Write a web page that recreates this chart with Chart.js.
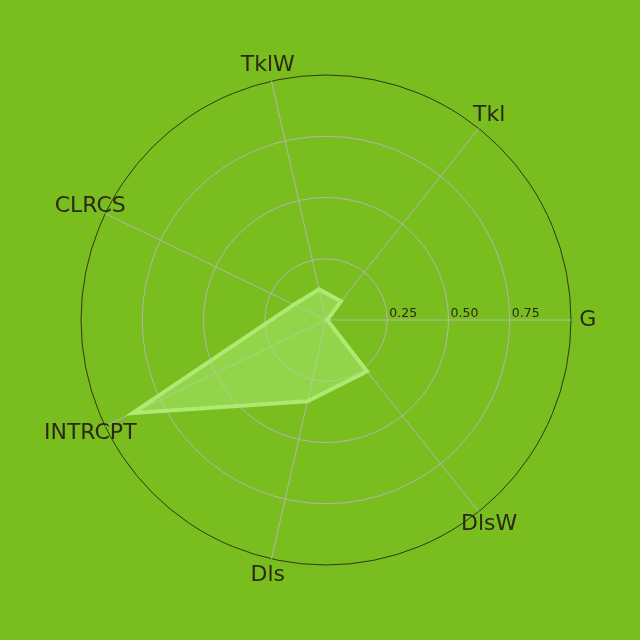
<!DOCTYPE html>
<html>
<head>
<meta charset="utf-8">
<script src="https://cdn.jsdelivr.net/npm/chart.js@4/dist/chart.umd.min.js"></script>
<style>
html,body{margin:0;padding:0;background:#79bd1f;}
canvas{display:block;}
</style>
</head>
<body>
<canvas id="c" width="640" height="640"></canvas>
<script>
// Categories in clockwise order starting from the right (G)
const categories = ["G", "DlsW", "Dls", "INTRCPT", "CLRCS", "TklW", "Tkl"];
const values = [0.005, 0.268, 0.340, 0.875, 0.145, 0.128, 0.098];
const tickLabels = ["0.25", "0.50", "0.75"];
const tickValues = [0.25, 0.5, 0.75];

const textColor = "#2a2a12";

const labelPlugin = {
  id: "labels",
  beforeDraw(chart) {
    const ctx = chart.ctx;
    ctx.save();
    ctx.fillStyle = "#79bd1f";
    ctx.fillRect(0, 0, chart.width, chart.height);
    ctx.restore();
  },
  afterDraw(chart) {
    const ctx = chart.ctx;
    const r = chart.scales.r;
    ctx.save();
    ctx.fillStyle = textColor;
    ctx.font = "22px 'DejaVu Sans'";
    ctx.textAlign = "center";
    ctx.textBaseline = "middle";
    categories.forEach((lab, i) => {
      const p = r.getPointPositionForValue(i, 1.068);
      ctx.fillText(lab, p.x, p.y);
    });
    ctx.font = "12.5px 'DejaVu Sans'";
    ctx.textAlign = "left";
    ctx.textBaseline = "alphabetic";
    tickValues.forEach((v, i) => {
      const p = r.getPointPositionForValue(0, v);
      ctx.fillText(tickLabels[i], p.x + 2, p.y - 3);
    });
    ctx.restore();
  }
};

new Chart(document.getElementById("c"), {
  type: "radar",
  data: {
    labels: categories,
    datasets: [{
      data: values,
      backgroundColor: "rgba(168,232,110,0.55)",
      borderColor: "#aeea72",
      borderWidth: 4,
      pointRadius: 0,
      pointHoverRadius: 0,
      tension: 0,
      fill: true
    }]
  },
  options: {
    responsive: false,
    animation: false,
    events: [],
    layout: { padding: { left: 81, right: 69, top: 75, bottom: 75 } },
    plugins: { legend: { display: false }, tooltip: { enabled: false } },
    scales: {
      r: {
        min: 0,
        max: 1,
        startAngle: 90,
        ticks: { display: false, stepSize: 0.25 },
        pointLabels: { display: false },
        grid: {
          circular: true,
          color: (c) => c.index === 4 ? "#2f3a14" : "#b5b5b5",
          lineWidth: 1
        },
        angleLines: { color: "#b5b5b5", lineWidth: 1 }
      }
    }
  },
  plugins: [labelPlugin]
});
</script>
</body>
</html>
